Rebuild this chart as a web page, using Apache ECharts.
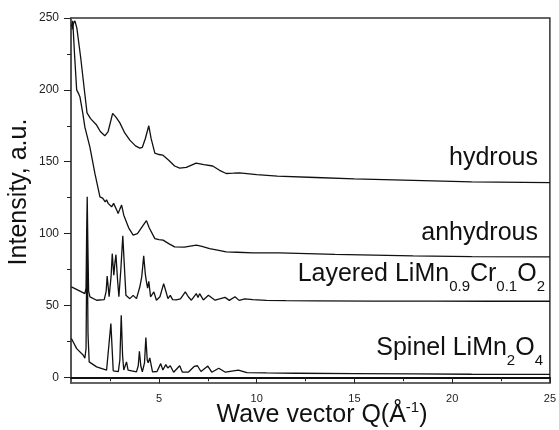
<!DOCTYPE html>
<html>
<head>
<meta charset="utf-8">
<script src="https://cdn.jsdelivr.net/npm/echarts@6/dist/echarts.min.js"></script>
<style>
  html, body { margin: 0; padding: 0; background: #fff; }
  #chart { width: 559px; height: 430px; }
</style>
</head>
<body>
<div id="chart"></div>
<script>
// wave vector Q and intensity
const qHydrous = [0.55, 0.62, 0.70, 0.80, 1.00, 1.20, 1.32, 1.50, 1.81, 2.00, 2.23, 2.40, 2.63, 2.80, 3.00, 3.25, 3.51, 3.80, 4.02, 4.15, 4.30, 4.48, 4.60, 4.79, 5.00, 5.19, 5.50, 5.80, 6.06, 6.40, 6.90, 7.30, 7.75, 8.10, 8.44, 8.80, 9.12, 10.0, 11.06, 13.0, 15.0, 18.0, 21.0, 25.0];
const iHydrous = [242, 246, 248, 243, 222, 198, 184, 180, 175.5, 171, 168, 171, 183.6, 181, 177, 170, 165, 161, 159.4, 160, 166, 175, 166, 156, 155, 154.6, 151, 147, 145.5, 146, 149, 148, 147, 144, 141.8, 142, 142.2, 141, 140, 139, 138, 137, 136, 135.5];

const qAnhydrous = [0.52, 0.59, 0.68, 0.79, 0.90, 0.96, 1.10, 1.21, 1.47, 1.72, 1.98, 2.12, 2.25, 2.32, 2.40, 2.50, 2.58, 2.68, 2.75, 2.85, 2.91, 3.00, 3.09, 3.20, 3.26, 3.45, 3.68, 3.90, 4.10, 4.36, 4.50, 4.79, 5.00, 5.21, 5.50, 5.80, 6.30, 6.91, 7.20, 7.59, 8.00, 8.44, 9.00, 9.80, 11.16, 14.0, 18.0, 21.0, 25.0];
const iAnhydrous = [244, 248, 225, 200, 197, 195, 184, 174, 160, 142, 125.5, 124.6, 122, 123.5, 121, 121, 118.6, 121, 121, 116, 114, 117, 119.8, 112.8, 111.6, 104, 98.9, 100, 104, 109, 104, 96.5, 95.8, 95.4, 93, 90.7, 90.5, 91.9, 91, 89.5, 88.5, 87.2, 87, 86.5, 86.5, 85.5, 84.5, 84, 83.7];

const qLayered = [0.52, 0.96, 1.21, 1.27, 1.30, 1.33, 1.36, 1.40, 1.47, 1.81, 2.20, 2.30, 2.35, 2.45, 2.55, 2.61, 2.69, 2.75, 2.80, 2.88, 2.95, 3.05, 3.15, 3.22, 3.31, 3.51, 3.68, 3.85, 4.02, 4.12, 4.22, 4.30, 4.36, 4.42, 4.48, 4.57, 4.66, 4.74, 4.87, 5.05, 5.24, 5.35, 5.46, 5.58, 5.70, 5.88, 6.10, 6.35, 6.50, 6.66, 6.91, 7.00, 7.08, 7.27, 7.53, 7.87, 8.10, 8.38, 8.60, 8.89, 9.10, 9.40, 9.80, 10.5, 11.5, 13.0, 16.0, 19.0, 22.0, 25.0];
const iLayered = [62.9, 59.9, 58.2, 62, 100, 125.6, 95, 60, 55.9, 53.6, 54, 60, 70.5, 56, 70, 86, 71, 80, 85.3, 68, 56, 75, 98.4, 80, 57, 54.7, 57, 54.7, 62.8, 70, 84.5, 72, 66.4, 62, 66.8, 56, 57, 59.4, 53.6, 56, 65.2, 60, 54.7, 57, 54, 53.8, 54.5, 59.4, 56, 53.6, 58.2, 55.5, 58.2, 53.8, 57, 53.6, 54.5, 55.6, 53.5, 56, 53.5, 54.5, 54, 53.5, 53.3, 53.2, 53, 53, 52.9, 52.9];

const qSpinel = [0.52, 0.79, 1.13, 1.21, 1.27, 1.30, 1.33, 1.37, 1.43, 1.81, 2.32, 2.42, 2.54, 2.66, 2.92, 3.00, 3.07, 3.14, 3.20, 3.34, 3.42, 3.51, 3.85, 3.94, 4.00, 4.07, 4.15, 4.26, 4.33, 4.40, 4.45, 4.53, 4.67, 4.90, 5.09, 5.20, 5.35, 5.45, 5.58, 5.75, 6.06, 6.20, 6.50, 6.80, 6.97, 7.15, 7.50, 7.70, 8.06, 8.40, 9.06, 9.50, 10.5, 12.0, 15.0, 18.0, 21.0, 25.0];
const iSpinel = [27, 19.9, 15.3, 13.3, 20, 70, 95, 30, 10.7, 7.2, 4.9, 5.5, 37.3, 4.5, 3.9, 12, 43.2, 15, 5, 10.7, 5, 3.7, 3.7, 8, 18.1, 8, 3.7, 10, 27.6, 12, 10, 13.4, 3.8, 4, 9.5, 5, 8.8, 6.5, 8, 3.5, 8, 3.5, 3.5, 7.5, 8, 4, 7.8, 3.5, 6.3, 3.5, 5, 3.2, 3, 2.8, 2.5, 2.3, 2.1, 2];

// ticks
const xTicks = [5, 10, 15, 20, 25];
const xMinorTicks = [2.5, 7.5, 12.5, 17.5, 22.5];
const yTicks = [0, 50, 100, 150, 200, 250];
const yMinorTicks = [25, 75, 125, 175, 225];

const pairs = (q, v) => q.map((x, i) => [x, v[i]]);

const FONT = "'Liberation Sans', Arial, sans-serif";
// m = normal, s = subscript, p = superscript: [size, baseline shift]
const PART = { m: [25, 0], s: [15, 9], p: [15, -11] };

const ctx = document.createElement('canvas').getContext('2d');
function textWidth(t, size) {
  ctx.font = size + 'px ' + FONT;
  return ctx.measureText(t).width;
}

// text made of pieces laid side by side on one baseline
function pieceText(anchorX, baseline, pieces, align) {
  const widths = pieces.map(p => textWidth(p[0], PART[p[1]][0]));
  const total = widths.reduce((a, b) => a + b, 0);
  let x = align === 'right' ? anchorX - total : anchorX - total / 2;
  return pieces.map((p, i) => {
    const size = PART[p[1]][0];
    const el = {
      type: 'text', x: x, y: baseline + PART[p[1]][1] - 0.35 * size,
      style: { text: p[0], font: size + 'px ' + FONT, fill: '#111', align: 'left', verticalAlign: 'middle' }
    };
    x += widths[i];
    return el;
  });
}

function lineSeries(name, data) {
  return {
    name: name,
    type: 'line',
    data: data,
    symbol: 'none',
    smooth: false,
    lineStyle: { color: '#111', width: 1.3 },
    xAxisIndex: 0,
    yAxisIndex: 0
  };
}

const labels = [].concat(
  pieceText(538, 167, [['hydrous', 'm']], 'right'),
  pieceText(538, 242, [['anhydrous', 'm']], 'right'),
  pieceText(545, 283, [['Layered LiMn', 'm'], ['0.9', 's'], ['Cr', 'm'], ['0.1', 's'], ['O', 'm'], ['2', 's']], 'right'),
  pieceText(543, 357, [['Spinel LiMn', 'm'], ['2', 's'], ['O', 'm'], ['4', 's']], 'right'),
  pieceText(322, 424, [['Wave vector Q(Å', 'm'], ['-1', 'p'], [')', 'm']], 'center')
);

const chart = echarts.init(document.getElementById('chart'));
chart.setOption({
  animation: false,
  backgroundColor: '#fff',
  grid: { left: 71, right: 8, top: 18, bottom: 47, show: true, borderColor: '#333', borderWidth: 1.5 },
  xAxis: [
    {
      type: 'value', min: 0.5, max: 25, position: 'bottom',
      axisLine: { lineStyle: { color: '#111', width: 2 } },
      axisTick: { customValues: xTicks, length: 6, lineStyle: { color: '#222', width: 1 } },
      axisLabel: { customValues: xTicks, fontSize: 11, color: '#222', margin: 10, fontFamily: FONT },
      splitLine: { show: false }
    },
    {
      type: 'value', min: 0.5, max: 25, position: 'bottom',
      axisLine: { show: false },
      axisTick: { customValues: xMinorTicks, length: 4, lineStyle: { color: '#222', width: 1 } },
      axisLabel: { show: false },
      splitLine: { show: false }
    }
  ],
  yAxis: [
    {
      type: 'value', min: -4, max: 250, position: 'left',
      axisLine: { show: true, lineStyle: { color: '#555', width: 2 } },
      axisTick: { show: true, customValues: yTicks, length: 7, lineStyle: { color: '#222', width: 1 } },
      axisLabel: { customValues: yTicks, fontSize: 12, color: '#222', margin: 12, fontFamily: FONT },
      splitLine: { show: false }
    },
    {
      type: 'value', min: -4, max: 250, position: 'left',
      axisLine: { show: false },
      axisTick: { show: true, customValues: yMinorTicks, length: 4, lineStyle: { color: '#222', width: 1 } },
      axisLabel: { show: false },
      splitLine: { show: false }
    }
  ],
  graphic: labels.concat([
    {
      type: 'text', x: 19.5, y: 192, rotation: Math.PI / 2,
      style: { text: 'Intensity, a.u.', font: '25px ' + FONT, fill: '#111', align: 'center', verticalAlign: 'middle' }
    }
  ]),
  series: [
    lineSeries('hydrous', pairs(qHydrous, iHydrous)),
    lineSeries('anhydrous', pairs(qAnhydrous, iAnhydrous)),
    lineSeries('Layered LiMn0.9Cr0.1O2', pairs(qLayered, iLayered)),
    lineSeries('Spinel LiMn2O4', pairs(qSpinel, iSpinel))
  ]
});
</script>
</body>
</html>
